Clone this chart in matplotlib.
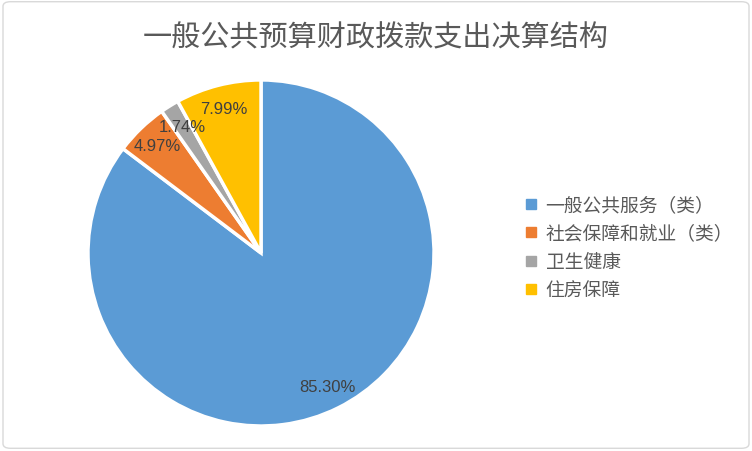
import matplotlib
matplotlib.use("Agg")
import matplotlib.pyplot as plt
from matplotlib.patches import FancyBboxPatch
from matplotlib.lines import Line2D

plt.rcParams['font.family'] = ['Noto Sans CJK SC', 'DejaVu Sans']

title = "一般公共预算财政拨款支出决算结构"
categories = ["一般公共服务（类）", "社会保障和就业（类）", "卫生健康", "住房保障"]
values = [85.30, 4.97, 1.74, 7.99]
colors = ["#5B9BD5", "#ED7D31", "#A5A5A5", "#FFC000"]

fig = plt.figure(figsize=(7.52, 4.52), dpi=100)
fig.patch.set_facecolor("white")
border = FancyBboxPatch((0.004, 0.006), 0.992, 0.988, boxstyle="round,pad=0,rounding_size=0.01",
                        transform=fig.transFigure, facecolor="none", edgecolor="#D9D9D9", lw=1,
                        zorder=-1)
fig.patches.append(border)

ax = fig.add_axes([0.1124, 0.0476, 0.4694, 0.781])
wedges, texts, autotexts = ax.pie(values, colors=colors, startangle=90, counterclock=False,
                                  autopct="%.2f%%", pctdistance=0.86, radius=1,
                                  wedgeprops=dict(edgecolor="white", linewidth=2.5),
                                  textprops=dict(fontsize=12, color="#404040", family=['Liberation Sans', 'DejaVu Sans']))
ax.set_xlim(-1.02, 1.02)
ax.set_ylim(-1.02, 1.02)
ax.set_aspect("equal")
ax.axis("off")

fig.text(0.5, 0.915, title, ha="center", va="center", fontsize=21, color="#595959", weight="light")

handles = [Line2D([0], [0], marker="s", linestyle="none", markersize=7, markerfacecolor=c,
                  markeredgecolor=c) for c in colors]
fig.legend(handles, categories, loc="upper left", bbox_to_anchor=(0.688, 0.585), frameon=False,
           labelcolor="#595959", handlelength=0.6, handletextpad=0.5,
           labelspacing=0.4, borderaxespad=0, prop=dict(size=13.5, weight="light"))

fig.savefig("out.png", dpi=100)
